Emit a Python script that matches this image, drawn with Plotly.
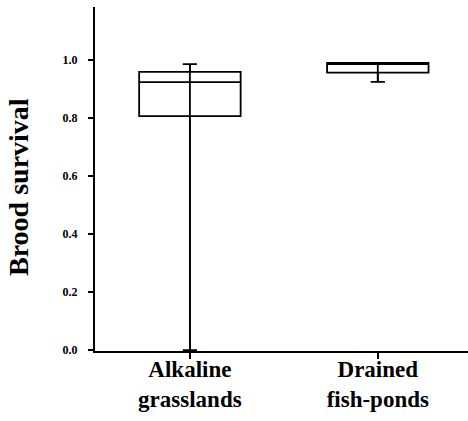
import plotly.graph_objects as go

# ---- data ----
categories = ["Alkaline<br>grasslands", "Drained<br>fish-ponds"]
lower_fence = [0.0, 0.925]
q1_vals = [0.807, 0.957]
median_vals = [0.924, 0.990]
q3_vals = [0.959, 0.990]
upper_fence = [0.986, 0.990]
y_tick_vals = [0.0, 0.2, 0.4, 0.6, 0.8, 1.0]
y_tick_text = ["0.0", "0.2", "0.4", "0.6", "0.8", "1.0"]

SERIF = "Liberation Serif"
fig = go.Figure()

x_pos = list(range(len(categories)))

fig.add_trace(go.Box(
    x=x_pos,
    q1=q1_vals, median=median_vals, q3=q3_vals,
    lowerfence=lower_fence, upperfence=upper_fence,
    width=0.54, whiskerwidth=0.14,
    line=dict(color="black", width=1.8),
    fillcolor="rgba(255,255,255,0)",
    boxpoints=False, showlegend=False, hoverinfo="skip",
))

# whisker line drawn through the box, as in the original
for i in x_pos:
    fig.add_trace(go.Scatter(
        x=[i, i], y=[lower_fence[i], upper_fence[i]],
        mode="lines", line=dict(color="black", width=1.8),
        showlegend=False, hoverinfo="skip",
    ))

fig.update_layout(
    width=468, height=421,
    margin=dict(l=95, r=0, t=7, b=70),
    paper_bgcolor="white", plot_bgcolor="white",
    font=dict(family=SERIF, color="black"),
    xaxis=dict(
        range=[-0.505, 1.48],
        tickmode="array", tickvals=x_pos,
        ticktext=["<b>%s</b>" % c.replace("<br>", "</b><br><b>") for c in categories],
        tickfont=dict(family=SERIF, size=23, color="black"),
        ticks="outside", ticklen=6, tickwidth=1.8, tickcolor="black",
        ticklabelstandoff=-10,
        showline=True, linecolor="black", linewidth=2,
        showgrid=False, zeroline=False,
    ),
    yaxis=dict(
        range=[-0.003, 1.183],
        tickmode="array", tickvals=y_tick_vals,
        ticktext=["<b>%s</b>" % t for t in y_tick_text],
        tickfont=dict(family=SERIF, size=12, color="black"),
        ticks="outside", ticklen=5, tickwidth=1.5, tickcolor="black",
        ticklabelstandoff=8,
        showline=True, linecolor="black", linewidth=2,
        showgrid=False, zeroline=False,
    ),
    annotations=[dict(
        text="<b>Brood survival</b>", textangle=-90,
        xref="paper", yref="paper", x=(18 - 95) / 373, y=(351 - 187) / 344,
        xanchor="center", yanchor="middle", showarrow=False,
        font=dict(family=SERIF, size=28, color="black"),
    )],
)

fig.write_html("out.html", config={"displayModeBar": False},
               post_script="document.body.style.margin='0px';")
